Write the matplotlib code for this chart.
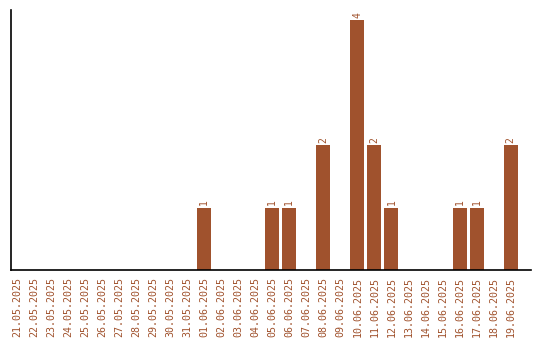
import numpy as np
import matplotlib.pyplot as plt

dates = ["21.05.2025", "22.05.2025", "23.05.2025", "24.05.2025", "25.05.2025",
         "26.05.2025", "27.05.2025", "28.05.2025", "29.05.2025", "30.05.2025",
         "31.05.2025", "01.06.2025", "02.06.2025", "03.06.2025", "04.06.2025",
         "05.06.2025", "06.06.2025", "07.06.2025", "08.06.2025", "09.06.2025",
         "10.06.2025", "11.06.2025", "12.06.2025", "13.06.2025", "14.06.2025",
         "15.06.2025", "16.06.2025", "17.06.2025", "18.06.2025", "19.06.2025"]
counts = [0, 0, 0, 0, 0, 0, 0, 0, 0, 0,
          0, 1, 0, 0, 0, 1, 1, 0, 2, 0,
          4, 2, 1, 0, 0, 0, 1, 1, 0, 2]

color = "#A0522D"

fig = plt.figure(figsize=(5.4, 3.4), dpi=100)
ax = fig.add_axes([0.0204, 0.206, 0.963, 0.764])
x = np.arange(len(dates))
bars = ax.bar(x, counts, width=0.82, color=color)
for xi, c in zip(x, counts):
    if c > 0:
        ax.text(xi, c + 0.04, str(c), rotation=90, ha="center", va="bottom",
                color=color, fontsize=7, family="DejaVu Sans Mono")

ax.set_xlim(-0.35, 30.2)
ax.set_ylim(0, 4.16)
ax.set_xticks(x)
ax.set_xticklabels(dates, rotation=90, color=color, fontsize=7.2,
                   family="DejaVu Sans Mono")
ax.tick_params(axis="x", length=0, pad=5)
ax.set_yticks([])
ax.spines["top"].set_visible(False)
ax.spines["right"].set_visible(False)
ax.spines["left"].set_linewidth(1.2)
ax.spines["bottom"].set_linewidth(1.2)

plt.savefig("out.png", dpi=100)
